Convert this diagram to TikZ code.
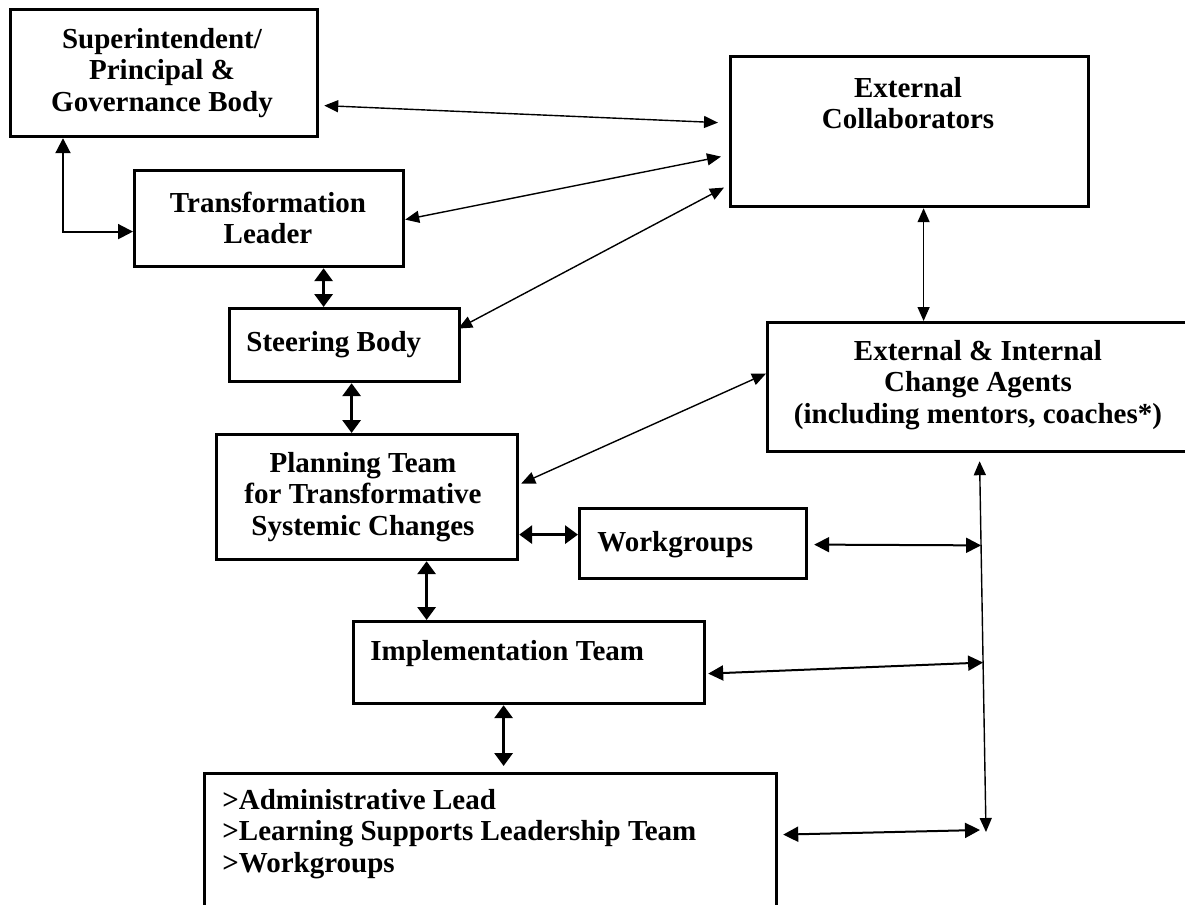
\documentclass[tikz,border=0pt]{standalone}
\usepackage{fontspec}
\setmainfont{Liberation Serif}
\usetikzlibrary{arrows.meta,calc}
\begin{document}
\begin{tikzpicture}[x=0.5pt,y=-0.5pt,
  box/.style={draw,line width=1.6pt,inner sep=0pt,anchor=north west},
  lbl/.style={inner sep=0pt,align=center,font=\fontsize{14.5}{15.7}\selectfont\bfseries},
  lkthin/.style={line width=0.7pt,arrows={Triangle[length=7pt,width=6pt]-Triangle[length=7pt,width=6pt]}},
  lkmed/.style={line width=1pt,arrows={Triangle[length=7.5pt,width=7.5pt]-Triangle[length=7.5pt,width=7.5pt]}},
  lkthick/.style={line width=1.6pt,arrows={Triangle[length=6.5pt,width=9pt]-Triangle[length=6.5pt,width=9pt]}}]
\useasboundingbox (0,0) rectangle (1185,905);
\clip (0,0) rectangle (1185,905);
% boxes
\node[box,minimum width=153.5pt,minimum height=63.5pt] (sup) at (9,8) {};
\node[box,minimum width=179pt,minimum height=75pt] (ext) at (729,55) {};
\node[box,minimum width=134.5pt,minimum height=48pt] (tl) at (133,169) {};
\node[box,minimum width=115pt,minimum height=36.5pt] (steer) at (228,307) {};
\node[box,minimum width=213pt,minimum height=64.5pt] (agents) at (766,321) {};
\node[box,minimum width=150.5pt,minimum height=62.5pt] (plan) at (215,433) {};
\node[box,minimum width=113.5pt,minimum height=35pt] (wg) at (578,507) {};
\node[box,minimum width=175.5pt,minimum height=41pt] (impl) at (352,620) {};
\node[box,minimum width=286pt,minimum height=94pt] (bot) at (203,772) {};
% texts
\node[lbl] (supT) at (162,73) {Superintendent/\\Principal \&\\Governance Body};
\node[lbl] (extT) at (908,103) {External\\Collaborators};
\node[lbl] (tlT) at (268,218) {Transformation\\Leader};
\node[lbl,anchor=west] (steerT) at (246,345) {Steering Body};
\node[lbl] (agT) at (978,385) {External \& Internal\\Change Agents\\(including mentors, coaches*)};
\node[lbl] (planT) at (363,497) {Planning Team\\for Transformative\\Systemic Changes};
\node[lbl,anchor=west] (wgT) at (597,545) {Workgroups};
\node[lbl,anchor=west] (implT) at (370,654) {Implementation Team};
\node[lbl,anchor=west,align=left] (botT) at (222,834) {>Administrative Lead\\>Learning Supports Leadership Team\\>Workgroups};
% connectors
\draw[lkthin] ($(sup.east)+(5,32.5)$) -- ($(ext.west)+(-11,-9)$);
\draw[lkthin] ($(tl.east)+(0,1)$) -- ($(ext.west)+(-8,25)$);
\draw[lkthin] ($(steer.east)+(-3,-16.5)$) -- ($(ext.west)+(-5,56)$);
\draw[lkmed] ($(sup.south west)+(54,0)$) |- ($(tl.west)+(0,13)$);
\draw[lkthick] ($(tl.south)+(54.5,0)$) -- ($(steer.north)+(-21,0)$);
\draw[lkthick] ($(steer.south)+(7,0)$) -- ($(plan.north)+(-15.5,0)$);
\draw[lkthin] ($(ext.south)+(14,0)$) -- ($(agents.north)+(-57,0)$);
\draw[lkthin] ($(plan.east)+(2,-13.5)$) -- ($(agents.west)+(0,-13.5)$);
\draw[lkthick] ($(plan.east)+(0,37.5)$) -- ($(wg.west)+(0,-9)$);
\draw[lkthick] ($(plan.south)+(59.5,0)$) -- ($(impl.north)+(-102.5,0)$);
\coordinate (vtop) at ($(agents.south)+(-1,8)$);
\coordinate (vbot) at (986,832);
\draw[lkthin] (vtop) -- (vbot);
\draw[lkmed] ($(wg.east)+(6,1)$) -- ($(vtop)!0.227!(vbot)$);
\draw[lkmed] ($(impl.east)+(2,11)$) -- ($(vtop)!0.543!(vbot)$);
\draw[lkthick] ($(impl.south)+(-25.5,0)$) -- ($(bot.north)+(13,-6)$);
\draw[lkmed] ($(bot.east)+(5,-33)$) -- ($(vbot)+(-6,-2)$);
\end{tikzpicture}
\end{document}
